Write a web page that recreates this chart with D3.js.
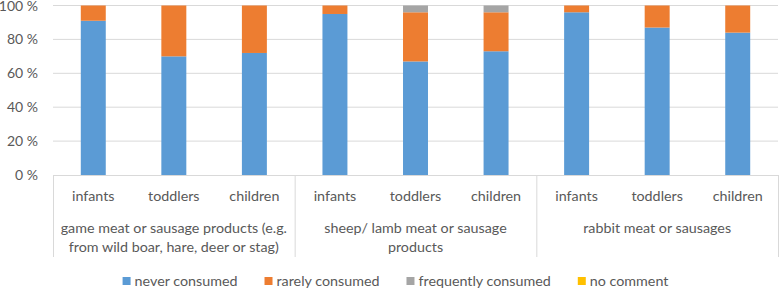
<!DOCTYPE html>
<html><head><meta charset="utf-8">
<script src="https://cdn.jsdelivr.net/npm/d3@7"></script>
<style>
html,body{margin:0;padding:0;background:#fff;}
text{font-family:Lato,"Liberation Sans",sans-serif;fill:#595959;}
</style></head>
<body><svg id="c" width="780" height="289"></svg>
<script>
const groups = [
  ["game meat or sausage products (e.g.", "from wild boar, hare, deer or stag)"],
  ["sheep/ lamb meat or sausage", "products"],
  ["rabbit meat or sausages"]
];
const ages = ["infants", "toddlers", "children"];
const seriesNames = ["never consumed", "rarely consumed", "frequently consumed", "no comment"];
const colors = ["#5B9BD5", "#ED7D31", "#A5A5A5", "#FFC000"];
const never      = [91, 70, 72, 95, 67, 73, 96, 87, 84];
const rarely     = [9, 30, 28, 5, 29, 23, 4, 13, 16];
const frequently = [0, 0, 0, 0, 4, 4, 0, 0, 0];
const noComment  = [0, 0, 0, 0, 0, 0, 0, 0, 0];
const yTicks = [0, 20, 40, 60, 80, 100];

(function(){
const svg = d3.select("#c");
const mLeft = 53, mRight = 778, mTop = 5.5, mBottom = 175;
const fs = 14.3;
const cats = d3.range(9);
const rows = cats.map(i => ({i, never: never[i], rarely: rarely[i], frequently: frequently[i], noComment: noComment[i]}));
const keys = ["never", "rarely", "frequently", "noComment"];
const stack = d3.stack().keys(keys)(rows);

const x = d3.scaleBand().domain(cats).range([mLeft, mRight]).paddingInner(0.69).paddingOuter(0.345);
const xg = d3.scaleBand().domain(d3.range(3)).range([mLeft, mRight]);
const y = d3.scaleLinear().domain([0, 100]).range([mBottom, mTop]);

svg.append("g").selectAll("line").data(yTicks.filter(d => d > 0)).join("line")
  .attr("x1", mLeft).attr("x2", mRight)
  .attr("y1", d => y(d)).attr("y2", d => y(d))
  .attr("stroke", "#D9D9D9").attr("stroke-width", 1);

svg.append("g").selectAll("text").data(yTicks).join("text")
  .attr("x", 38).attr("y", d => y(d)).attr("dy", "0.36em")
  .attr("text-anchor", "end").attr("font-size", 14)
  .text(d => d + " %");

svg.append("g").selectAll("g").data(stack).join("g")
  .attr("fill", (d, k) => colors[k])
  .selectAll("rect").data(d => d).join("rect")
  .attr("x", d => x(d.data.i)).attr("width", x.bandwidth())
  .attr("y", d => y(d[1])).attr("height", d => y(d[0]) - y(d[1]));

svg.append("line").attr("x1", mLeft).attr("x2", mRight).attr("y1", mBottom + 0.5).attr("y2", mBottom + 0.5)
  .attr("stroke", "#D9D9D9");
svg.append("g").selectAll("line").data(d3.range(4)).join("line")
  .attr("x1", d => (d < 3 ? xg(d) : mRight) + 0.5).attr("x2", d => (d < 3 ? xg(d) : mRight) + 0.5)
  .attr("y1", mBottom).attr("y2", 257)
  .attr("stroke", "#D9D9D9");

svg.append("g").selectAll("text").data(cats).join("text")
  .attr("x", d => x(d) + x.bandwidth() / 2).attr("y", 196).attr("dy", "0.35em")
  .attr("text-anchor", "middle").attr("font-size", fs)
  .text(d => ages[d % 3]);

const gl = svg.append("g").selectAll("text").data(groups).join("text")
  .attr("x", (d, i) => xg(i) + xg.bandwidth() / 2).attr("y", 228)
  .attr("text-anchor", "middle").attr("font-size", fs);
gl.selectAll("tspan").data(d => d).join("tspan")
  .attr("x", function(){ return d3.select(this.parentNode).attr("x"); })
  .attr("dy", (d, j) => j === 0 ? "0.35em" : "19px")
  .text(d => d);

// legend: laid out from measured text widths, centred
const leg = svg.append("g");
const items = leg.selectAll("g").data(seriesNames).join("g");
items.append("rect").attr("x", 0).attr("y", -4).attr("width", 8).attr("height", 8)
  .attr("fill", (d, i) => colors[i]);
items.append("text").attr("x", 12).attr("y", 0).attr("dy", "0.35em").attr("font-size", fs)
  .text(d => d);
let cx = 0;
const pos = [];
items.each(function(){
  const w = d3.select(this).select("text").node().getComputedTextLength();
  pos.push(cx);
  cx += 12 + w + 27;
});
const total = cx - 27;
const start = 395.5 - total / 2;
items.attr("transform", (d, i) => `translate(${start + pos[i]},281)`);
})();
</script></body></html>
